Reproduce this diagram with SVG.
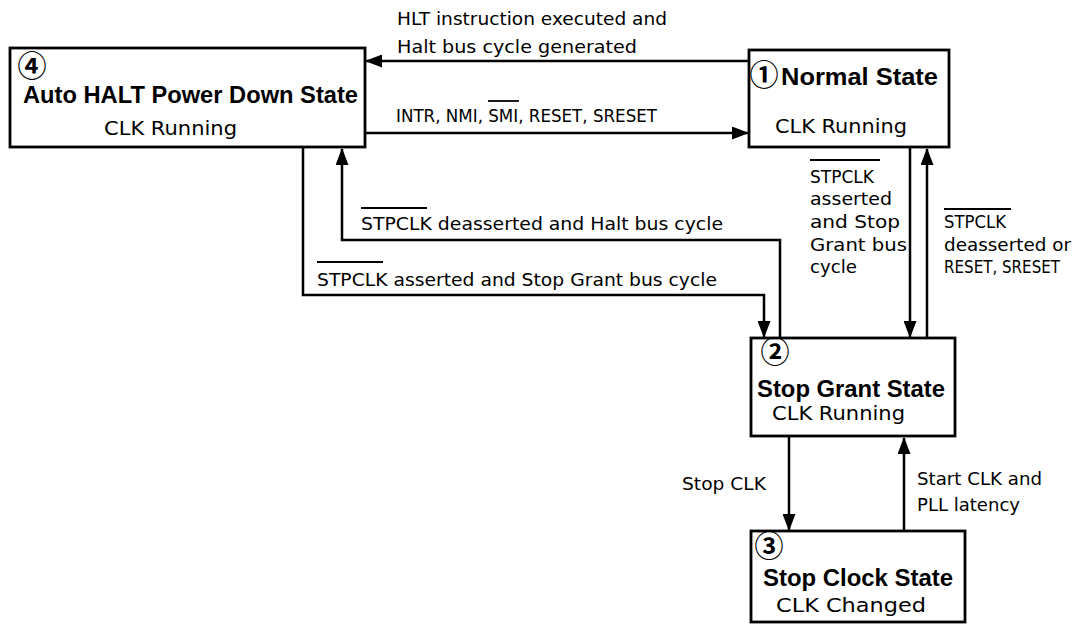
<svg xmlns="http://www.w3.org/2000/svg" width="1081" height="626" viewBox="0 0 1081 626">
<style>
.box{fill:#fff;stroke:#000;stroke-width:2.8}
.ln{fill:none;stroke:#000;stroke-width:2.5}
.ol{stroke:#000;stroke-width:1.8}
.t{font-family:"DejaVu Sans","Liberation Sans",sans-serif;font-size:18px;fill:#000}
.r{font-family:"DejaVu Sans","Liberation Sans",sans-serif;font-size:20px;fill:#000}
.b{font-family:"Liberation Sans",Arial,sans-serif;font-size:24px;font-weight:bold;fill:#000}
.c{font-family:"Noto Sans CJK JP","DejaVu Sans",sans-serif;font-size:29px;font-weight:bold;fill:#000;text-anchor:middle}
</style>
<defs>
<marker id="ah" markerWidth="17" markerHeight="13" refX="16" refY="6.5" orient="auto" markerUnits="userSpaceOnUse">
<path d="M0,0 L17,6.5 L0,13 z" fill="#000"/>
</marker>
</defs>
<rect width="1081" height="626" fill="#fff"/>
<g id="connectors">
<path class="ln" d="M749,61 H366" marker-end="url(#ah)"/>
<path class="ln" d="M366,133 H748" marker-end="url(#ah)"/>
<path class="ln" d="M303,148 V295 H764 V337" marker-end="url(#ah)"/>
<path class="ln" d="M780,337 V240 H342 V149" marker-end="url(#ah)"/>
<path class="ln" d="M910,148 V337" marker-end="url(#ah)"/>
<path class="ln" d="M927,337 V149" marker-end="url(#ah)"/>
<path class="ln" d="M789,437 V530" marker-end="url(#ah)"/>
<path class="ln" d="M904,530 V438" marker-end="url(#ah)"/>
</g>
<g id="labels">
<text class="t" x="397" y="25" textLength="270" lengthAdjust="spacingAndGlyphs">HLT instruction executed and</text>
<text class="t" x="397" y="53" textLength="240" lengthAdjust="spacingAndGlyphs">Halt bus cycle generated</text>
<text class="t" x="396" y="122" textLength="261" lengthAdjust="spacingAndGlyphs">INTR, NMI, SMI, RESET, SRESET</text>
<line class="ol" x1="488" y1="101" x2="519" y2="101"/>
<text class="t" x="361" y="230" textLength="362" lengthAdjust="spacingAndGlyphs">STPCLK deasserted and Halt bus cycle</text>
<line class="ol" x1="361" y1="208" x2="427" y2="208"/>
<text class="t" x="317" y="286" textLength="400" lengthAdjust="spacingAndGlyphs">STPCLK asserted and Stop Grant bus cycle</text>
<line class="ol" x1="317" y1="262" x2="383" y2="262"/>
<text class="t" x="810" y="183" textLength="64" lengthAdjust="spacingAndGlyphs">STPCLK</text>
<text class="t" x="810" y="205" textLength="82" lengthAdjust="spacingAndGlyphs">asserted</text>
<text class="t" x="810" y="228" textLength="90" lengthAdjust="spacingAndGlyphs">and Stop</text>
<text class="t" x="810" y="251" textLength="97" lengthAdjust="spacingAndGlyphs">Grant bus</text>
<text class="t" x="810" y="273" textLength="47" lengthAdjust="spacingAndGlyphs">cycle</text>
<line class="ol" x1="810" y1="160" x2="880" y2="160"/>
<text class="t" x="944" y="228" textLength="62" lengthAdjust="spacingAndGlyphs">STPCLK</text>
<text class="t" x="944" y="251" textLength="127" lengthAdjust="spacingAndGlyphs">deasserted or</text>
<text class="t" x="944" y="273" textLength="116" lengthAdjust="spacingAndGlyphs">RESET, SRESET</text>
<line class="ol" x1="944" y1="209" x2="1011" y2="209"/>
<text class="t" x="682" y="490" textLength="84" lengthAdjust="spacingAndGlyphs">Stop CLK</text>
<text class="t" x="917" y="485" textLength="125" lengthAdjust="spacingAndGlyphs">Start CLK and</text>
<text class="t" x="917" y="511" textLength="103" lengthAdjust="spacingAndGlyphs">PLL latency</text>
</g>
<g id="state4">
<rect class="box" x="10" y="48" width="355" height="99"/>
<text class="c" x="32" y="77">④</text>
<text class="b" x="23" y="103" textLength="335" lengthAdjust="spacingAndGlyphs">Auto HALT Power Down State</text>
<text class="r" x="104" y="135" textLength="133" lengthAdjust="spacingAndGlyphs">CLK Running</text>
</g>
<g id="state1">
<rect class="box" x="749" y="50" width="200" height="97"/>
<text class="c" x="764" y="86">①</text>
<text class="b" x="781" y="85" textLength="157" lengthAdjust="spacingAndGlyphs">Normal State</text>
<text class="r" x="775" y="133" textLength="132" lengthAdjust="spacingAndGlyphs">CLK Running</text>
</g>
<g id="state2">
<rect class="box" x="751" y="338" width="204" height="98"/>
<text class="c" x="775" y="363">②</text>
<text class="b" x="757" y="397" textLength="188" lengthAdjust="spacingAndGlyphs">Stop Grant State</text>
<text class="r" x="772" y="420" textLength="133" lengthAdjust="spacingAndGlyphs">CLK Running</text>
</g>
<g id="state3">
<rect class="box" x="751" y="531" width="214" height="91"/>
<text class="c" x="769" y="557">③</text>
<text class="b" x="763" y="586" textLength="190" lengthAdjust="spacingAndGlyphs">Stop Clock State</text>
<text class="r" x="776" y="612" textLength="150" lengthAdjust="spacingAndGlyphs">CLK Changed</text>
</g>
</svg>
